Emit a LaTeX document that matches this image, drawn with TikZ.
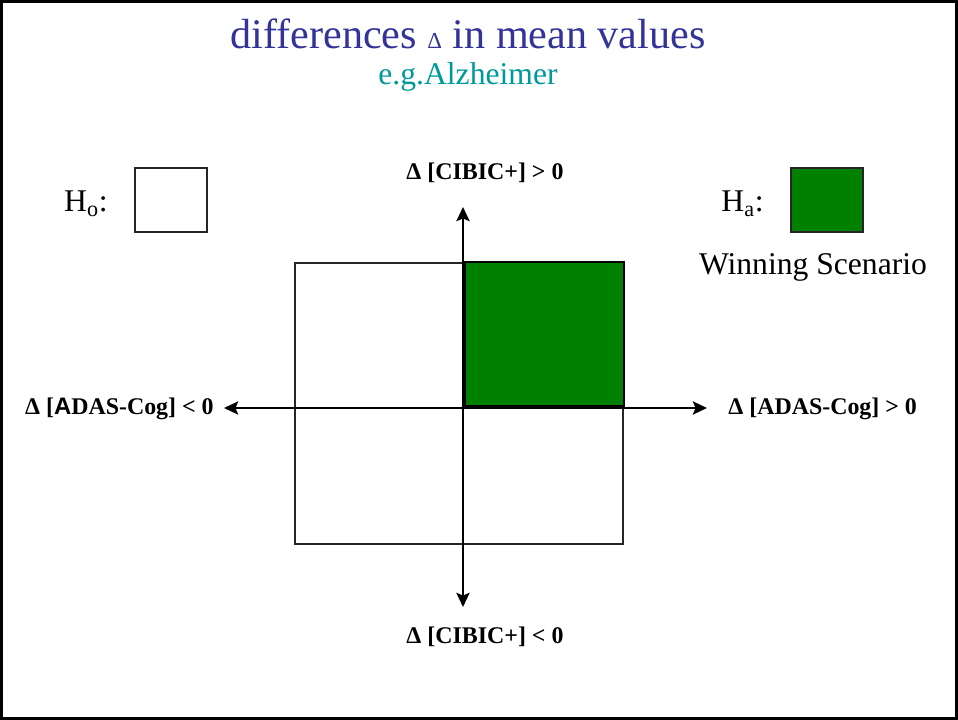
\documentclass[tikz,border=0pt]{standalone}
\usepackage{fontspec}
\setmainfont{Liberation Serif}
\newfontfamily\arialfont{Liberation Sans}
\usepackage{xcolor}
\usetikzlibrary{arrows.meta, positioning}

\definecolor{titleblue}{RGB}{51,51,153}
\definecolor{subteal}{RGB}{0,153,153}
\definecolor{wingreen}{RGB}{0,128,0}

\begin{document}
\begin{tikzpicture}[
    x=0.02cm, y=-0.02cm,
    quad/.style   = {draw=black!85, line width=0.6pt},
    axis/.style   = {{Stealth[length=2.8mm,width=2.6mm,inset=0.5mm]}-{Stealth[length=2.8mm,width=2.6mm,inset=0.5mm]},
                     line width=1.6pt},
    lbl/.style    = {font=\fontsize{13.6}{15}\selectfont\bfseries, inner sep=0pt},
    hyp/.style    = {font=\fontsize{18}{21}\selectfont, inner sep=0pt},
    legbox/.style = {draw=black!85, line width=0.6pt, minimum width=1.44cm,
                     minimum height=1.28cm, inner sep=0pt}
  ]

  % ----------------------------------------------------------------
  % Frame round the whole slide
  % ----------------------------------------------------------------
  \useasboundingbox (0,0) rectangle (958,720);
  \draw[line width=1.8pt] (1.5,1.5) rectangle (956.5,718.5);

  % ----------------------------------------------------------------
  % Title and subtitle
  % ----------------------------------------------------------------
  \node[titleblue, font=\fontsize{24}{28}\selectfont] (title) at (468,34)
        {differences {\fontsize{13}{13}\selectfont Δ} in mean values};
  \node[subteal, font=\fontsize{18}{21}\selectfont] (sub) at (468,77)
        {e.g.Alzheimer};

  % ----------------------------------------------------------------
  % Legend: H_o (white box) and H_a (green box)
  % ----------------------------------------------------------------
  \node[legbox, fill=white]    (hobox) at (171,200) {};
  \node[hyp, left=15pt of hobox, yshift=-2pt] (ho) {H\textsubscript{o}:};
  \node[legbox, fill=wingreen] (habox) at (827,200) {};
  \node[hyp, left=15pt of habox, yshift=-2pt] (ha) {H\textsubscript{a}:};
  \node[hyp] (win) at (813,267) {Winning Scenario};

  % ----------------------------------------------------------------
  % Quadrants (x: 295..463..623, y: 263..408..544)
  % ----------------------------------------------------------------
  \foreach \nm/\xa/\ya/\xb/\yb in {
      tl/295/263/463/408, bl/295/408/463/544, br/463/408/623/544}{
    \draw[quad, fill=white] (\xa,\ya) rectangle (\xb,\yb);
  }
  % winning quadrant
  \draw[quad, draw=black, fill=wingreen] (465,262) rectangle (624,406);

  % ----------------------------------------------------------------
  % Axes with their labels
  % ----------------------------------------------------------------
  \coordinate (ytop) at (463,207);
  \coordinate (ybot) at (463,607);
  \coordinate (xlft) at (224,408);
  \coordinate (xrgt) at (707,408);
  \draw[axis] (ybot) -- (ytop);
  \draw[axis] (xlft) -- (xrgt);

  \node[lbl] (cpos) at (485,173) {Δ [CIBIC+] > 0};
  \node[lbl] (cneg) at (485,637) {Δ [CIBIC+] < 0};
  \node[lbl, anchor=east] (aneg) at (214,409)
        {Δ [{\arialfont A}DAS-Cog] < 0};
  \node[lbl, anchor=west] (apos) at (728,409) {Δ [ADAS-Cog] > 0};

\end{tikzpicture}
\end{document}
